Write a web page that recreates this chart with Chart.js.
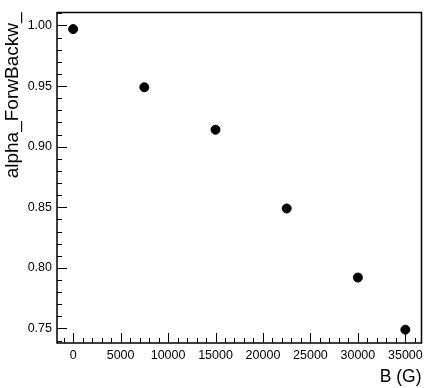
<!DOCTYPE html>
<html>
<head>
<meta charset="utf-8">
<script src="https://cdn.jsdelivr.net/npm/chart.js@4/dist/chart.umd.min.js"></script>
<style>
  html, body { margin: 0; padding: 0; background: #fff; }
  #wrap { width: 428px; height: 388px; }
</style>
</head>
<body>
<div id="wrap"><canvas id="myChart" width="428" height="388"></canvas></div>
<script>
// data
const bField = [0, 7500, 15000, 22500, 30000, 35000];
const alphaFB = [0.997, 0.949, 0.914, 0.849, 0.792, 0.749];

// tick labels
const xTicks = [0, 5000, 10000, 15000, 20000, 25000, 30000, 35000];
const yTicks = [0.75, 0.80, 0.85, 0.90, 0.95, 1.00];

const FONT = "'Liberation Sans', Arial, Helvetica, sans-serif";

// ROOT style frame with inward ticks
const rootFrame = {
  id: 'rootFrame',
  afterDraw(chart) {
    const ctx = chart.ctx;
    const a = chart.chartArea;
    const xs = chart.scales.x;
    const ys = chart.scales.y;
    ctx.save();
    ctx.strokeStyle = '#000';
    ctx.lineWidth = 1;
    ctx.beginPath();
    // x ticks: major every 5000, minor every 1000
    for (let v = -1000; v <= 37000; v += 1000) {
      if (v < xs.min || v > xs.max) continue;
      const px = Math.round(xs.getPixelForValue(v)) + 0.5;
      const len = (v % 5000 === 0) ? 10 : 5;
      ctx.moveTo(px, a.bottom);
      ctx.lineTo(px, a.bottom - len);
    }
    // y ticks: major every 0.05, minor every 0.01
    for (let i = 73; i <= 102; i++) {
      const v = i / 100;
      if (v < ys.min || v > ys.max) continue;
      const py = Math.round(ys.getPixelForValue(v)) + 0.5;
      const len = (i % 5 === 0) ? 10 : 5;
      ctx.moveTo(a.left, py);
      ctx.lineTo(a.left + len, py);
    }
    ctx.stroke();
    ctx.lineWidth = 1.5;
    ctx.strokeRect(a.left, a.top, a.right - a.left, a.bottom - a.top);
    ctx.restore();
  }
};

new Chart("myChart", {
  type: "scatter",
  data: {
    datasets: [{
      data: bField.map((b, i) => ({ x: b, y: alphaFB[i] })),
      backgroundColor: "#000",
      borderColor: "#000",
      pointRadius: 4.5,
      pointHoverRadius: 4.5
    }]
  },
  options: {
    responsive: false,
    animation: false,
    events: [],
    layout: { padding: { top: 12, right: 6, left: 0, bottom: 0 } },
    plugins: {
      legend: { display: false },
      tooltip: { enabled: false }
    },
    scales: {
      x: {
        type: "linear",
        min: -1700,
        max: 36700,
        grid: { display: false, drawTicks: false },
        border: { display: false },
        afterBuildTicks: s => { s.ticks = xTicks.map(v => ({ value: v })); },
        afterFit: s => { s.height = 45; },
        ticks: {
          color: "#000",
          padding: 5,
          maxRotation: 0,
          font: { family: FONT, size: 12.5 },
          callback: v => String(v)
        },
        title: {
          display: true,
          text: "B (G)",
          align: "end",
          color: "#000",
          padding: 0,
          font: { family: FONT, size: 17.5 }
        }
      },
      y: {
        type: "linear",
        min: 0.738,
        max: 1.0107,
        grid: { display: false, drawTicks: false },
        border: { display: false },
        afterBuildTicks: s => { s.ticks = yTicks.map(v => ({ value: v })); },
        afterFit: s => { s.width = 57; },
        ticks: {
          color: "#000",
          padding: 5,
          font: { family: FONT, size: 12.5 },
          callback: v => v.toFixed(2)
        },
        title: {
          display: true,
          text: "alpha_ForwBackw_",
          align: "end",
          color: "#000",
          padding: { top: 1, bottom: 0 },
          font: { family: FONT, size: 19 }
        }
      }
    }
  },
  plugins: [rootFrame]
});
</script>
</body>
</html>
